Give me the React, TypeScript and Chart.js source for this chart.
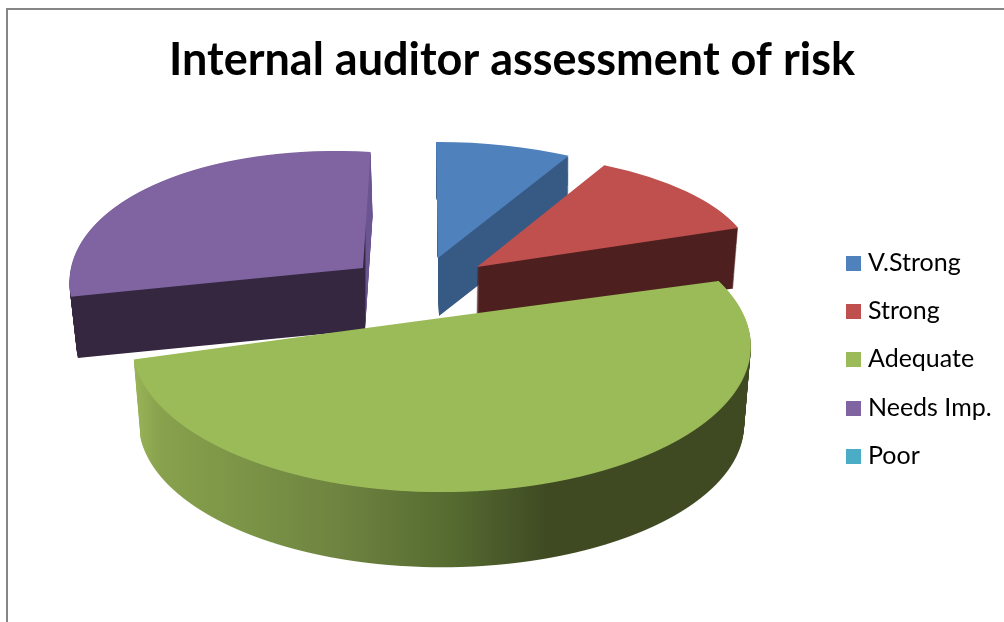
import React, { useEffect, useRef } from "react";
import { Chart, registerables } from "chart.js";

Chart.register(...registerables);

const categories = ["V.Strong", "Strong", "Adequate", "Needs Imp.", "Poor"];
const shares = [8, 12, 50, 30, 0];
const faceColors = ["#4f81bd", "#c0504d", "#9bbb59", "#8064a2", "#4bacc6"];
const chartTitle = "Internal auditor assessment of risk";

const WIDTH = 1004;
const HEIGHT = 622;

// Projection of each exploded wedge onto the page: a = apex, A/B/C/D = linear terms,
// p = perspective strength, depth/taper/drift = extrusion of the wall below the face.
const wedgeViews = [
  { ax: 438, ay: 258, A: 275, B: -2, C: -1, D: 116, p: 0, depth: 58, taper: 0.01, drift: 1, wall: [[0, "#375a84"], [1, "#375a84"]] },
  { ax: 477, ay: 267, A: 277, B: -7, C: -4, D: 114, p: 0, depth: 60, taper: 0.015, drift: -1, wall: [[0, "#4e1f1f"], [1, "#4e1f1f"]] },
  { ax: 441, ay: 318, A: 304, B: 8, C: 5, D: 142, p: 0.184, depth: 79, taper: 0.022, drift: 0, wall: [[0.131, "#9bb658"], [0.16, "#87a14d"], [0.25, "#7a9346"], [0.34, "#6e8340"], [0.45, "#556b30"], [0.545, "#3f4a23"], [1, "#3f4a23"]] },
  { ax: 363, ay: 268, A: 293, B: 9, C: 16, D: 137, p: 0.18, depth: 62, taper: 0.017, drift: 2, wall: [[0, "#35273f"], [0.3635, "#35273f"], [0.3645, "#6a5590"], [1, "#6a5590"]] },
];
const paintOrder = [3, 0, 1, 2];

type View = { ax: number; ay: number; A: number; B: number; C: number; D: number; p: number };

// Draws one arc element through a view; perspective views are rendered row by row.
function paintArc(ctx: CanvasRenderingContext2D, arc: any, v: View) {
  const R = arc.outerRadius;
  if (v.p === 0) {
    ctx.save();
    ctx.setTransform(v.A / R, v.C / R, -v.B / R, v.D / R, v.ax, v.ay);
    ctx.translate(-arc.x, -arc.y);
    arc.draw(ctx);
    ctx.restore();
    return;
  }
  const pad = Math.abs(v.C) + 4;
  const top = Math.max(0, Math.floor(v.ay - (1.02 * v.D) / (1 + v.p) - pad));
  const bottom = Math.min(HEIGHT, Math.ceil(v.ay + (1.02 * v.D) / (1 - v.p) + pad));
  for (let row = top; row < bottom; row++) {
    const dy = row + 0.5 - v.ay;
    const v0 = -dy / (v.D + v.p * dy);
    const w = 1 + v.p * v0;
    const a = v.A / (R * w);
    const b = v.C / (R * w);
    const c = -v.B / (R * w);
    const d = v.D / (w * w * R);
    ctx.save();
    ctx.beginPath();
    ctx.rect(0, row, WIDTH, 1);
    ctx.clip();
    ctx.setTransform(a, b, c, d, v.ax + (v.B * v0) / w + c * v0 * R, row + 0.5 + d * v0 * R);
    ctx.translate(-arc.x, -arc.y);
    arc.draw(ctx);
    ctx.restore();
  }
}

const extrudedPie = {
  id: "extrudedPie",
  beforeDraw(chart: any) {
    const { ctx } = chart;
    ctx.save();
    ctx.strokeStyle = "#868686";
    ctx.lineWidth = 2;
    ctx.beginPath();
    ctx.moveTo(7, HEIGHT);
    ctx.lineTo(7, 9);
    ctx.lineTo(WIDTH, 9);
    ctx.stroke();
    ctx.restore();
  },
  beforeDatasetDraw(chart: any, args: any) {
    const ctx: CanvasRenderingContext2D = chart.ctx;
    const arcs = args.meta.data;
    for (const i of paintOrder) {
      const view = wedgeViews[i];
      const layer = document.createElement("canvas");
      layer.width = WIDTH;
      layer.height = HEIGHT;
      const lc = layer.getContext("2d") as CanvasRenderingContext2D;
      for (let z = view.depth; z >= 1; z--) {
        const t = z / view.depth;
        const k = 1 - t * view.taper;
        paintArc(lc, arcs[i], {
          ...view,
          ax: view.ax + t * view.drift,
          ay: view.ay + z,
          A: view.A * k,
          D: view.D * k,
        });
      }
      const fill = lc.createLinearGradient(0, 0, WIDTH, 0);
      for (const [at, color] of view.wall as [number, string][]) fill.addColorStop(at, color);
      lc.setTransform(1, 0, 0, 1, 0, 0);
      lc.globalCompositeOperation = "source-in";
      lc.fillStyle = fill;
      lc.fillRect(0, 0, WIDTH, HEIGHT);
      ctx.drawImage(layer, 0, 0);
      paintArc(ctx, arcs[i], view);
    }
    return false;
  },
  afterDraw(chart: any) {
    const { ctx } = chart;
    ctx.save();
    ctx.font = "25px Lato";
    ctx.textBaseline = "middle";
    categories.forEach((name, i) => {
      const y = 256 + 48.2 * i;
      ctx.fillStyle = faceColors[i];
      ctx.fillRect(846, Math.round(y), 15, 15);
      ctx.fillStyle = "#000000";
      ctx.fillText(name, 868, y + 7);
    });
    ctx.restore();
  },
};

export default function App() {
  const ref = useRef<HTMLCanvasElement | null>(null);
  useEffect(() => {
    const chart = new Chart(ref.current as HTMLCanvasElement, {
      type: "pie",
      data: {
        labels: categories,
        datasets: [{ data: shares, backgroundColor: faceColors, borderWidth: 0 }],
      },
      options: {
        animation: false,
        responsive: false,
        devicePixelRatio: 1,
        layout: { padding: { left: 20 } },
        plugins: {
          legend: { display: false },
          tooltip: { enabled: false },
          title: {
            display: true,
            text: chartTitle,
            color: "#000000",
            font: { family: "Lato", size: 45, weight: "bold" },
            padding: { top: 33, bottom: 10 },
          },
        },
      },
      plugins: [extrudedPie],
    } as any);
    return () => chart.destroy();
  }, []);
  return (
    <div style={{ position: "fixed", left: 0, top: 0, width: WIDTH, height: HEIGHT, background: "#ffffff" }}>
      <canvas ref={ref} width={WIDTH} height={HEIGHT} style={{ display: "block" }} />
    </div>
  );
}
